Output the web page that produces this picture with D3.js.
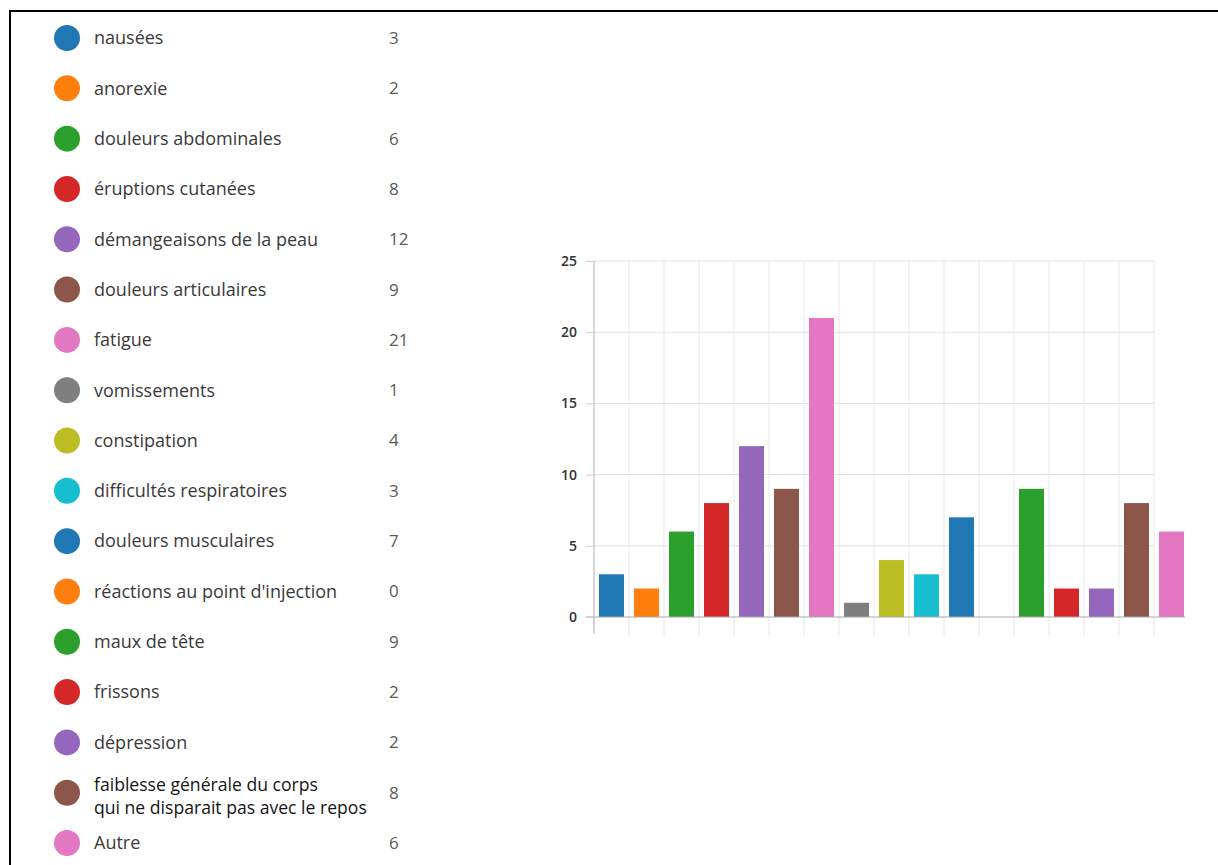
<!DOCTYPE html>
<html>
<head>
<meta charset="utf-8">
<script src="https://cdn.jsdelivr.net/npm/d3@7"></script>
<style>
  html, body { margin: 0; padding: 0; background: #fff; }
  svg { display: block; }
</style>
</head>
<body>
<svg id="chart" width="1218" height="865"></svg>
<script>
// Symptom labels (the long one is split over two lines)
const categories = [
  "nausées",
  "anorexie",
  "douleurs abdominales",
  "éruptions cutanées",
  "démangeaisons de la peau",
  "douleurs articulaires",
  "fatigue",
  "vomissements",
  "constipation",
  "difficultés respiratoires",
  "douleurs musculaires",
  "réactions au point d'injection",
  "maux de tête",
  "frissons",
  "dépression",
  "faiblesse générale du corps\nqui ne disparait pas avec le repos",
  "Autre"
];

// Number of responses per symptom
const counts = [3, 2, 6, 8, 12, 9, 21, 1, 4, 3, 7, 0, 9, 2, 2, 8, 6];

// Y axis tick values
const yTicks = [0, 5, 10, 15, 20, 25];

const svg = d3.select("#chart");
const font = "'Open Sans', 'Noto Sans', sans-serif";

// Frame lines along the top and left
svg.append("line").attr("x1", 9).attr("x2", 1218).attr("y1", 11).attr("y2", 11)
  .attr("stroke", "#000").attr("stroke-width", 2);
svg.append("line").attr("x1", 10).attr("x2", 10).attr("y1", 10).attr("y2", 865)
  .attr("stroke", "#000").attr("stroke-width", 2);

const color = d3.scaleOrdinal(d3.schemeCategory10).domain(d3.range(categories.length));

// ---- Legend ----
const legendY = d3.scalePoint().domain(d3.range(categories.length)).range([38, 843]);

const legend = svg.append("g").attr("font-family", font);
const rows = legend.selectAll("g.row")
  .data(categories.map((c, i) => ({ label: c, value: counts[i], i })))
  .join("g")
  .attr("class", "row")
  .attr("transform", d => `translate(0,${legendY(d.i)})`);

rows.append("circle")
  .attr("cx", 67).attr("cy", 0).attr("r", 13)
  .attr("fill", d => color(d.i));

rows.each(function (d) {
  const lines = d.label.split("\n");
  const g = d3.select(this);
  const multi = lines.length > 1;
  const lh = 23;
  const off = multi ? -8 : 0;
  lines.forEach((ln, k) => {
    g.append("text")
      .attr("x", 94)
      .attr("y", off + k * lh)
      .attr("dy", "0.35em")
      .attr("font-size", multi ? 17.6 : 18)
      .attr("fill", multi ? "#151515" : "#3a3a3a")
      .text(ln);
  });
  g.append("text")
    .attr("x", 389)
    .attr("y", 0)
    .attr("dy", "0.35em")
    .attr("font-size", 17)
    .attr("fill", "#5a5a5a")
    .text(d.value);
});

// ---- Bar chart ----
const x = d3.scaleBand()
  .domain(d3.range(categories.length))
  .range([594, 1189])
  .paddingInner(0.286)
  .paddingOuter(0.143);

const y = d3.scaleLinear().domain([0, 25]).range([617, 261]);

const step = x.step();
const gap = step * x.paddingInner();
const x0 = x.range()[0];
const gridEnd = x(categories.length - 1) - gap / 2;

// Horizontal gridlines
svg.append("g").selectAll("line")
  .data(yTicks.filter(t => t > 0))
  .join("line")
  .attr("x1", x0).attr("x2", gridEnd)
  .attr("y1", d => y(d)).attr("y2", d => y(d))
  .attr("stroke", "#e0e0e0").attr("stroke-width", 1);

// Vertical gridlines between the bars
const boundaries = d3.range(1, categories.length).map(i => x(i) - gap / 2);
svg.append("g").selectAll("line")
  .data(boundaries)
  .join("line")
  .attr("x1", d => d).attr("x2", d => d)
  .attr("y1", y(25)).attr("y2", y(0))
  .attr("stroke", "#e8e8e8").attr("stroke-width", 1);

// Small ticks under the baseline
svg.append("g").selectAll("line")
  .data([x0].concat(boundaries.filter(b => b < gridEnd + 1)))
  .join("line")
  .attr("x1", d => d).attr("x2", d => d)
  .attr("y1", y(0)).attr("y2", y(0) + 18)
  .attr("stroke", "#e6e6e6").attr("stroke-width", 1);

// Bars
svg.append("g").selectAll("rect")
  .data(counts.map((v, i) => ({ v, i })))
  .join("rect")
  .attr("x", d => x(d.i))
  .attr("width", x.bandwidth())
  .attr("y", d => y(d.v))
  .attr("height", d => y(0) - y(d.v))
  .attr("fill", d => color(d.i));

// Baseline
svg.append("line")
  .attr("x1", x0 - 8).attr("x2", x.range()[1] - 4)
  .attr("y1", y(0)).attr("y2", y(0))
  .attr("stroke", "#a8a8a8").attr("stroke-width", 1);

// Y axis
const yAxis = d3.axisLeft(y).tickValues(yTicks).tickSize(8).tickPadding(9);
const ga = svg.append("g")
  .attr("transform", `translate(${x0},0)`)
  .call(yAxis);
ga.select(".domain").attr("stroke", "#b0b0b0").attr("d", `M0,${y(25)}V${y(0) + 16}`);
ga.selectAll(".tick line").attr("stroke", "#cfcfcf");
ga.selectAll(".tick text")
  .attr("font-family", font)
  .attr("font-size", 14)
  .attr("font-weight", 600)
  .attr("fill", "#333");
</script>
</body>
</html>
